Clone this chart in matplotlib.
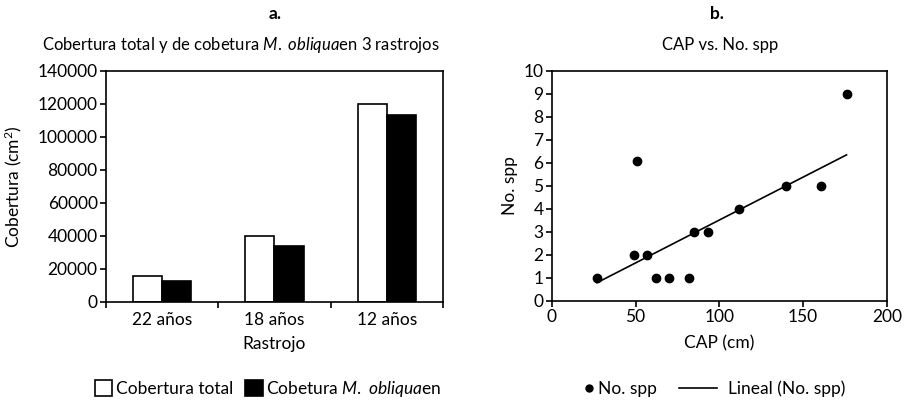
import numpy as np
import matplotlib
matplotlib.use("Agg")
import matplotlib.pyplot as plt
from matplotlib.patches import Patch
from matplotlib.lines import Line2D

plt.rcParams['font.family'] = ['Lato', 'DejaVu Sans']
plt.rcParams['mathtext.fontset'] = 'custom'
plt.rcParams['mathtext.rm'] = 'Lato'
plt.rcParams['mathtext.it'] = 'Lato:italic'
plt.rcParams['font.size'] = 12.5

# datos - grafico a
rastrojos = ['22 años', '18 años', '12 años']
cobertura_total = [16000, 40000, 120000]
cobertura_obliqua = [13000, 34000, 113500]

# datos - grafico b
cap = [27, 49, 51, 57, 62, 70, 82, 85, 93, 112, 140, 161, 176]
no_spp = [1, 2, 6.1, 2, 1, 1, 1, 3, 3, 4, 5, 5, 9]
# linea de tendencia (Lineal)
lineal_pendiente = 0.0373
lineal_intercepto = -0.22

fig = plt.figure(figsize=(9.09, 4.0), dpi=100)
ax1 = fig.add_axes([0.1166, 0.245, 0.3707, 0.578])
ax2 = fig.add_axes([0.607, 0.248, 0.3685, 0.575])

# --- a. barras
x = np.arange(len(rastrojos))
w = 0.26
ax1.bar(x - w / 2, cobertura_total, w, color='white', edgecolor='black', linewidth=1.2)
ax1.bar(x + w / 2, cobertura_obliqua, w, color='black', edgecolor='black', linewidth=1.2)
ax1.set_xlim(-0.5, 2.5)
ax1.set_ylim(0, 140000)
ax1.set_yticks(np.arange(0, 140001, 20000))
ax1.set_xticks(x)
ax1.set_xticklabels(rastrojos)
ax1.set_xticks([-0.5, 0.5, 1.5, 2.5], minor=True)
ax1.tick_params(axis='x', which='major', length=0, pad=7)
ax1.tick_params(axis='x', which='minor', length=4, width=1.2)
ax1.tick_params(axis='y', length=4, width=1.2, pad=2)
ax1.set_xlabel('Rastrojo')
ax1.xaxis.set_label_coords(0.5, -0.147)
ax1.set_ylabel('Cobertura (cm$^2$)')
ax1.yaxis.set_label_coords(-0.243, 0.5)
for s in ax1.spines.values():
    s.set_linewidth(1.2)

handles1 = [Patch(facecolor='white', edgecolor='black', linewidth=1.2),
            Patch(facecolor='black', edgecolor='black', linewidth=1.2)]
fig.legend(handles1, ['Cobertura total', r'Cobetura $M.\ obliqua$en'],
           loc='center', bbox_to_anchor=(268 / 909, 1 - 389 / 400), ncol=2,
           frameon=False, handlelength=1.0, handleheight=1.0,
           handletextpad=0.2, columnspacing=0.7, borderpad=0)

fig.text(275 / 909, 1 - 14 / 400, 'a.', ha='center', va='center', fontweight='bold')
fig.text(241 / 909, 1 - 45 / 400, r'Cobertura total y de cobetura $M.\ obliqua$en 3 rastrojos',
         ha='center', va='center', fontsize=12)

# --- b. dispersion
ax2.plot(cap, no_spp, 'o', color='black', markersize=6)
xl = np.array([min(cap), max(cap)])
ax2.plot(xl, lineal_pendiente * xl + lineal_intercepto, color='black', linewidth=1.2)
ax2.set_xlim(0, 200)
ax2.set_ylim(0, 10)
ax2.set_xticks([0, 50, 100, 150, 200])
ax2.set_yticks(range(0, 11))
ax2.tick_params(length=4, width=1.2, pad=2)
ax2.set_xlabel('CAP (cm)')
ax2.xaxis.set_label_coords(0.5, -0.149)
ax2.set_ylabel('No. spp')
ax2.yaxis.set_label_coords(-0.10, 0.5)
for s in ax2.spines.values():
    s.set_linewidth(1.2)

leg_a = fig.legend([Line2D([], [], marker='o', color='black', linestyle='none', markersize=5)],
                   ['No. spp'], loc='center', bbox_to_anchor=(621 / 909, 1 - 389 / 400),
                   frameon=False, handlelength=0.5, handletextpad=0.25, borderpad=0)
leg_b = fig.legend([Line2D([], [], color='black', linewidth=1.2)],
                   ['Lineal (No. spp)'], loc='center', bbox_to_anchor=(762 / 909, 1 - 389 / 400),
                   frameon=False, handlelength=2.2, handletextpad=0.6, borderpad=0)

fig.text(717 / 909, 1 - 14 / 400, 'b.', ha='center', va='center', fontweight='bold')
fig.text(720 / 909, 1 - 45 / 400, 'CAP vs. No. spp', ha='center', va='center', fontsize=12)

fig.savefig('out.png', dpi=100)
